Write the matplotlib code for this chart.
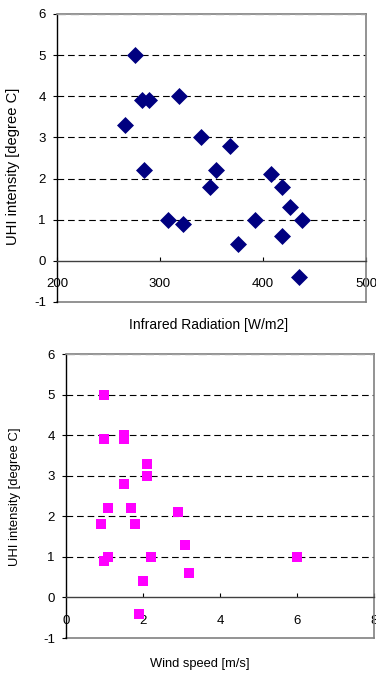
import matplotlib
matplotlib.use("Agg")
import matplotlib.pyplot as plt

plt.rcParams['font.family'] = ['Liberation Sans', 'DejaVu Sans']
plt.rcParams['axes.unicode_minus'] = False

# Top panel: Infrared radiation vs UHI intensity
ir_radiation = [276, 283, 289, 318, 266, 340, 368, 284, 354, 349, 408, 418,
                426, 438, 418, 392, 376, 308, 322, 435]
ir_uhi = [5.0, 3.9, 3.9, 4.0, 3.3, 3.0, 2.8, 2.2, 2.2, 1.8, 2.1, 1.8,
          1.3, 1.0, 0.6, 1.0, 0.4, 1.0, 0.9, -0.4]

# Bottom panel: wind speed vs UHI intensity
wind_speed = [1.0, 1.0, 1.5, 1.5, 2.1, 2.1, 1.5, 1.1, 1.7, 0.9, 1.8, 2.9,
              3.1, 1.0, 1.1, 2.2, 2.0, 3.2, 6.0, 1.9]
wind_uhi = [5.0, 3.9, 4.0, 3.9, 3.3, 3.0, 2.8, 2.2, 2.2, 1.8, 1.8, 2.1,
            1.3, 0.9, 1.0, 1.0, 0.4, 0.6, 1.0, -0.4]

y_ticks = [-1, 0, 1, 2, 3, 4, 5, 6]
ir_ticks = [200, 300, 400, 500]
wind_ticks = [0, 2, 4, 6, 8]

fig = plt.figure(figsize=(3.76, 6.75), dpi=100)

def style(ax, xlim, xticks, xlabel, xlab_pos, ylab_pos, xlab_size, ylab_size, xpad):
    ax.set_xlim(*xlim)
    ax.set_ylim(-1, 6)
    ax.set_xticks(xticks)
    ax.set_yticks(y_ticks)
    for v in [1, 2, 3, 4, 5]:
        ax.axhline(v, color='black', lw=0.8, ls=(0, (6, 3.5)), zorder=1)
    ax.axhline(6, color='#a0a0a0', lw=1.0, ls=(0, (6, 3.5)), zorder=3)
    ax.axhline(-1, color='#808080', lw=1.2, clip_on=False, zorder=1)
    ax.spines['bottom'].set_position(('data', 0))
    ax.spines['bottom'].set_color('#404040')
    ax.spines['bottom'].set_linewidth(1.0)
    ax.spines['left'].set_color('black')
    ax.spines['left'].set_linewidth(1.0)
    for s in ['top', 'right']:
        ax.spines[s].set_color('#808080')
        ax.spines[s].set_linewidth(1.2)
    ax.tick_params(axis='x', direction='in', length=3, width=0.8, pad=xpad,
                   labelsize=9.5)
    ax.tick_params(axis='y', direction='out', length=3, width=0.8, pad=5,
                   labelsize=9.5)
    ax.set_xlabel(xlabel, fontsize=xlab_size)
    ax.xaxis.set_label_coords(*xlab_pos)
    ax.xaxis.label.set_va('center')
    ax.set_ylabel('UHI intensity [degree C]', fontsize=ylab_size)
    ax.yaxis.set_label_coords(*ylab_pos)
    ax.yaxis.label.set_va('center')

ax1 = fig.add_axes([0.1516, 0.5526, 0.8218, 0.4267])
ax1.scatter(ir_radiation, ir_uhi, marker='D', s=75, color='#000080',
            zorder=5, clip_on=False, linewidths=0)
style(ax1, (200, 500), ir_ticks, 'Infrared Radiation [W/m2]',
      (0.489, -0.08), (-0.142, 0.47), 10, 10.6, 12)

ax2 = fig.add_axes([0.1755, 0.0548, 0.819, 0.4207])
ax2.scatter(wind_speed, wind_uhi, marker='s', s=55, color='#FF00FF',
            zorder=5, clip_on=False, linewidths=0)
style(ax2, (0, 8), wind_ticks, 'Wind speed [m/s]',
      (0.435, -0.092), (-0.166, 0.496), 9.3, 9.4, 12.5)

fig.savefig('out.png', dpi=100)
